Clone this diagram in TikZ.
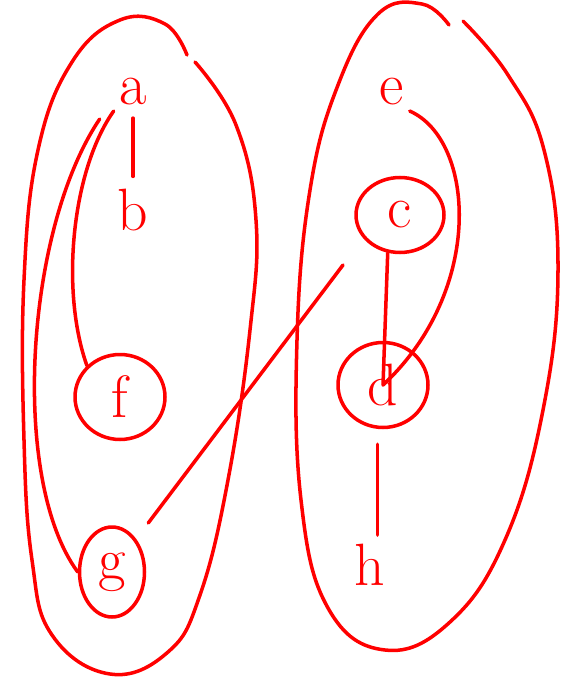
\documentclass[tikz,border=0pt]{standalone}
\usepackage{tikz}
\usetikzlibrary{shapes.geometric}
\definecolor{pen}{HTML}{FF0000}

\begin{document}
\begin{tikzpicture}[x=0.02cm, y=-0.02cm]
\useasboundingbox (0,0) rectangle (561,682);
\tikzset{
  ink/.style={draw=pen, line width=2pt, line cap=round, line join=round},
  letter/.style={text=pen, font=\fontsize{34}{34}\selectfont, inner sep=3pt},
  ring/.style={letter, ellipse, draw=pen, line width=2pt, inner sep=0pt}
}
% Left group
\draw[ink] plot[smooth, tension=0.7] coordinates {
  (187,55) (165,24) (120,20) (72,62) (38,150) (24,280) (24,440)
  (32,560) (52,635) (110,674) (168,652) (200,595) (228,480) (250,330)
  (256,220) (236,125) (195,62)};
% Right group
\draw[ink] plot[smooth, tension=0.7] coordinates {
  (449,25) (422,4) (378,14) (338,85) (310,190) (297,340) (301,500)
  (328,608) (385,650) (450,622) (505,540) (543,410) (558,270)
  (544,150) (508,75) (463,21)};
% Vertices
\node[letter] (a) at (133,92) {a};
\node[letter] (b) at (133,210) {b};
\node[ring, minimum width=1.8cm, minimum height=1.7cm] (f) at (120,397) {f};
\node[ring, minimum width=1.3cm, minimum height=1.8cm] (g) at (112,572) {g};
\node[letter] (e) at (392,92) {e};
\node[ring, minimum width=1.76cm, minimum height=1.5cm] (c) at (400,215) {c};
\node[ring, minimum width=1.8cm, minimum height=1.7cm] (d) at (383,385) {d};
\node[letter] (h) at (370,565) {h};
\coordinate (gEnd) at (343,265);
% Edges
\draw[ink, shorten <=4pt, shorten >=4pt] (a) -- (b);
\draw[ink] (a.south west) .. controls (72,170) and (60,290) .. (f.north west);
\draw[ink] ([shift={(-14,8)}]a.south west) .. controls (25,230) and (10,480) .. (g.west);
\draw[ink, shorten <=0.4cm] (g.north east) -- (gEnd);
\draw[ink] (c.252) -- (d.center);
\draw[ink] (e.south east) .. controls (475,140) and (485,290) .. (d.center);
\draw[ink, shorten <=0.3cm, shorten >=2pt] ([xshift=-3pt]d.south) -- ([xshift=-3pt]d.south |- h.north);
\end{tikzpicture}
\end{document}
